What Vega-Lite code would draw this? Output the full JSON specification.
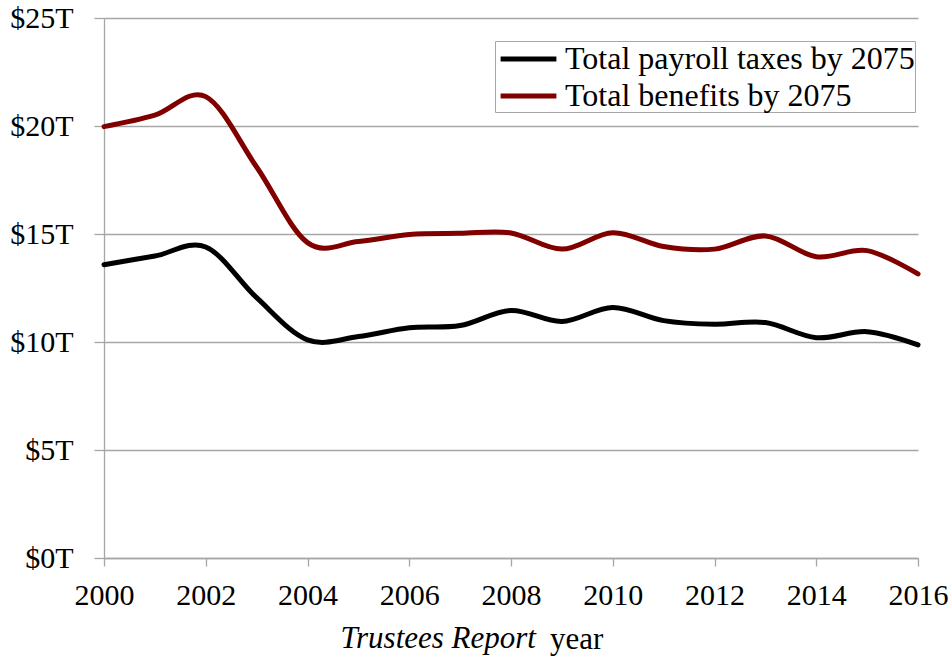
{
  "$schema": "https://vega.github.io/schema/vega-lite/v6.json",
  "width": 814,
  "height": 540,
  "autosize": {"type": "none"},
  "padding": {"left": 104, "top": 18, "right": 33, "bottom": 102},
  "background": "white",
  "config": {
    "font": "Liberation Serif",
    "view": {"stroke": null}
  },
  "title": {
    "text": "year",
    "orient": "bottom",
    "anchor": "start",
    "frame": "group",
    "dx": 446,
    "dy": -8,
    "fontSize": 31,
    "fontWeight": "normal",
    "font": "Liberation Serif",
    "color": "black",
    "baseline": "alphabetic"
  },
  "data": {
    "values": [
      {"year": 2000, "series": "Total payroll taxes by 2075", "value": 13.58},
      {"year": 2001, "series": "Total payroll taxes by 2075", "value": 13.98},
      {"year": 2002, "series": "Total payroll taxes by 2075", "value": 14.4},
      {"year": 2003, "series": "Total payroll taxes by 2075", "value": 12.05},
      {"year": 2004, "series": "Total payroll taxes by 2075", "value": 10.1},
      {"year": 2005, "series": "Total payroll taxes by 2075", "value": 10.25},
      {"year": 2006, "series": "Total payroll taxes by 2075", "value": 10.66},
      {"year": 2007, "series": "Total payroll taxes by 2075", "value": 10.76},
      {"year": 2008, "series": "Total payroll taxes by 2075", "value": 11.46},
      {"year": 2009, "series": "Total payroll taxes by 2075", "value": 10.95},
      {"year": 2010, "series": "Total payroll taxes by 2075", "value": 11.6},
      {"year": 2011, "series": "Total payroll taxes by 2075", "value": 10.99},
      {"year": 2012, "series": "Total payroll taxes by 2075", "value": 10.82},
      {"year": 2013, "series": "Total payroll taxes by 2075", "value": 10.9},
      {"year": 2014, "series": "Total payroll taxes by 2075", "value": 10.2},
      {"year": 2015, "series": "Total payroll taxes by 2075", "value": 10.48},
      {"year": 2016, "series": "Total payroll taxes by 2075", "value": 9.87},
      {"year": 2000, "series": "Total benefits by 2075", "value": 19.97},
      {"year": 2001, "series": "Total benefits by 2075", "value": 20.5},
      {"year": 2002, "series": "Total benefits by 2075", "value": 21.36},
      {"year": 2003, "series": "Total benefits by 2075", "value": 18.1},
      {"year": 2004, "series": "Total benefits by 2075", "value": 14.6},
      {"year": 2005, "series": "Total benefits by 2075", "value": 14.65},
      {"year": 2006, "series": "Total benefits by 2075", "value": 14.98},
      {"year": 2007, "series": "Total benefits by 2075", "value": 15.03},
      {"year": 2008, "series": "Total benefits by 2075", "value": 15.05},
      {"year": 2009, "series": "Total benefits by 2075", "value": 14.3},
      {"year": 2010, "series": "Total benefits by 2075", "value": 15.06},
      {"year": 2011, "series": "Total benefits by 2075", "value": 14.42},
      {"year": 2012, "series": "Total benefits by 2075", "value": 14.3},
      {"year": 2013, "series": "Total benefits by 2075", "value": 14.91},
      {"year": 2014, "series": "Total benefits by 2075", "value": 13.95},
      {"year": 2015, "series": "Total benefits by 2075", "value": 14.23},
      {"year": 2016, "series": "Total benefits by 2075", "value": 13.15}
    ]
  },
  "mark": {"type": "line", "interpolate": "cardinal", "strokeWidth": 5, "strokeCap": "round", "strokeJoin": "round"},
  "encoding": {
    "x": {
      "field": "year",
      "type": "quantitative",
      "scale": {"domain": [2000, 2016], "nice": false, "zero": false},
      "axis": {
        "values": [2000, 2002, 2004, 2006, 2008, 2010, 2012, 2014, 2016],
        "format": "d",
        "grid": false,
        "domainColor": "#a6a6a6",
        "domainWidth": 1.3,
        "tickColor": "#a6a6a6",
        "tickSize": 8,
        "tickWidth": 1.3,
        "labelFont": "Liberation Serif",
        "labelFontSize": 30,
        "labelColor": "black",
        "labelPadding": 14,
        "labelFlush": false,
        "title": "Trustees Report",
        "titleFont": "Liberation Serif",
        "titleFontStyle": "italic",
        "titleFontWeight": "normal",
        "titleFontSize": 31,
        "titleColor": "black",
        "titleAnchor": "start",
        "titleAlign": "left",
        "titleX": 236,
        "titleY": 89,
        "titleBaseline": "alphabetic"
      }
    },
    "y": {
      "field": "value",
      "type": "quantitative",
      "scale": {"domain": [0, 25], "nice": false},
      "axis": {
        "values": [0, 5, 10, 15, 20, 25],
        "labelExpr": "'$' + datum.value + 'T'",
        "grid": true,
        "gridColor": "#a6a6a6",
        "gridWidth": 1.3,
        "domainColor": "#a6a6a6",
        "domainWidth": 1.3,
        "tickColor": "#a6a6a6",
        "tickSize": 10,
        "tickWidth": 1.3,
        "labelFont": "Liberation Serif",
        "labelFontSize": 30,
        "labelColor": "black",
        "labelPadding": 21,
        "title": null
      }
    },
    "color": {
      "field": "series",
      "type": "nominal",
      "sort": ["Total payroll taxes by 2075", "Total benefits by 2075"],
      "scale": {
        "domain": ["Total payroll taxes by 2075", "Total benefits by 2075"],
        "range": ["#000000", "#800000"]
      },
      "legend": {
        "title": null,
        "orient": "none",
        "legendX": 391,
        "legendY": 23,
        "strokeColor": "#a6a6a6",
        "fillColor": "white",
        "padding": 0,
        "symbolType": "M-0.8,0H2.8",
        "symbolSize": 961,
        "symbolStrokeWidth": 5,
        "labelFontSize": 32,
        "labelColor": "black",
        "labelFont": "Liberation Serif",
        "labelOffset": 34,
        "labelLimit": 500,
        "rowPadding": 3
      }
    }
  }
}
